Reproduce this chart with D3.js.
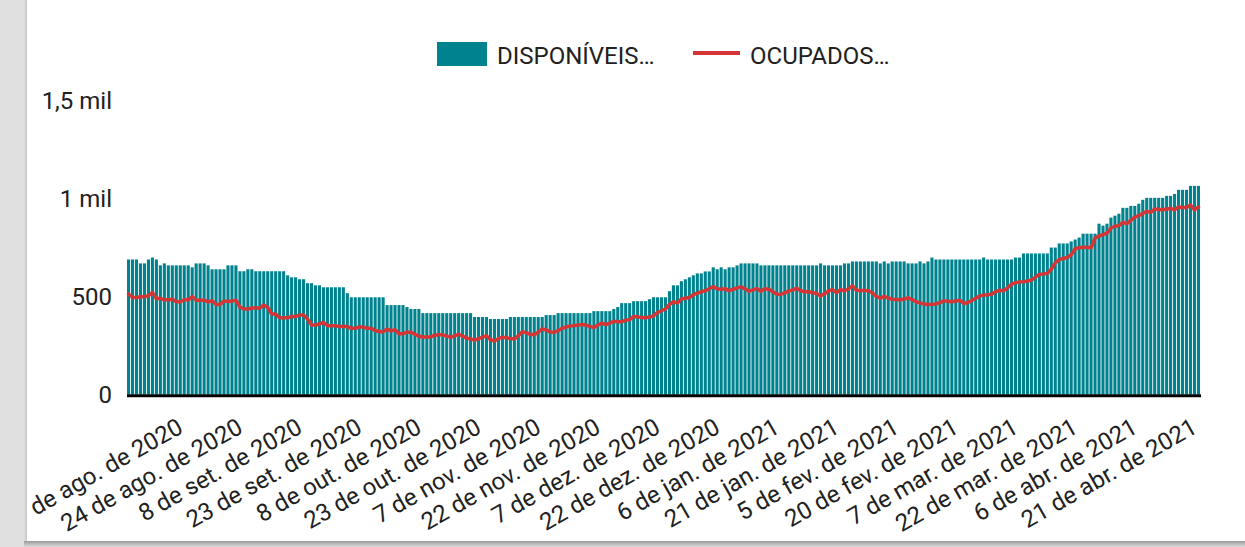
<!DOCTYPE html>
<html>
<head>
<meta charset="utf-8">
<script src="https://cdn.jsdelivr.net/npm/d3@7"></script>
<style>
  html, body { margin: 0; padding: 0; background: #e0e0e0; }
  svg { display: block; font-family: Roboto, "Noto Sans", sans-serif; }
</style>
</head>
<body>
<svg id="chart" width="1245" height="547"></svg>
<script>
// ---------- DATA ----------
const startDate = new Date(2020, 6, 30);   // 30 jul 2020
const endDate = new Date(2021, 3, 26);     // exclusive -> last day 25 abr 2021
const dates = d3.timeDay.range(startDate, endDate);

const disponiveis = [
  690,690,690,670,670,690,700,690,660,670,
  660,660,660,660,660,660,650,670,670,670,
  660,640,640,640,640,660,660,660,630,630,
  640,640,630,630,630,630,630,630,630,630,
  609,599,599,589,589,569,569,558,558,548,
  548,548,548,548,548,518,497,497,497,497,
  497,497,497,497,497,457,457,457,457,457,
  447,437,437,437,416,416,416,416,416,416,
  416,416,416,416,416,416,416,396,396,396,
  396,386,386,386,386,386,396,396,396,396,
  396,396,396,396,396,406,406,406,416,416,
  416,416,416,416,416,416,416,426,426,426,
  426,426,437,447,467,467,467,477,477,477,
  477,487,497,497,497,497,528,558,558,579,
  589,599,609,619,619,629,629,650,640,650,
  640,650,650,660,670,670,670,670,670,660,
  660,660,660,660,660,660,660,660,660,660,
  660,660,660,660,670,660,660,660,660,660,
  670,670,680,680,680,680,680,680,680,670,
  680,670,680,680,680,680,670,670,670,680,
  670,680,700,690,690,690,690,690,690,690,
  690,690,690,690,690,700,690,690,690,690,
  690,690,690,700,700,721,721,721,721,721,
  721,721,751,751,772,772,772,782,792,802,
  822,822,822,822,873,863,873,904,914,924,
  954,954,964,964,975,995,1005,1005,1005,1005,
  1005,1015,1015,1025,1046,1046,1046,1066,1066,1066
];

const ocupados = [
  513,496,496,500,500,505,521,491,491,484,
  484,487,474,474,484,484,500,482,482,482,
  474,479,460,460,477,477,477,482,447,437,
  437,442,442,442,457,445,411,411,392,392,
  392,399,399,406,406,386,355,355,360,369,
  352,352,352,347,347,347,338,338,345,345,
  338,338,327,321,321,335,325,331,311,311,
  318,318,308,298,294,294,294,303,305,305,
  298,293,300,308,298,288,284,278,285,293,
  300,280,274,285,293,290,286,284,300,321,
  315,308,305,318,335,330,320,318,326,338,
  345,350,352,355,358,355,348,342,355,365,
  357,365,374,372,372,380,382,399,397,393,
  392,396,402,420,428,437,460,474,467,488,
  492,496,510,518,525,530,540,552,540,538,
  541,530,538,545,550,540,528,535,541,528,
  541,538,525,513,511,520,528,535,543,530,
  525,525,520,516,504,515,530,535,521,536,
  530,540,555,533,532,531,530,520,501,493,
  501,493,487,486,484,488,494,485,474,468,
  463,460,461,463,470,479,476,474,478,482,
  465,470,480,492,504,508,510,513,525,533,
  530,545,563,572,575,576,580,585,600,614,
  616,619,640,673,690,695,700,714,745,750,
  753,752,750,799,810,817,825,851,860,863,
  880,873,890,907,914,925,936,931,948,946,
  944,948,951,944,958,956,956,968,944,958
];

const tickLabels = [
  "9 de ago. de 2020","24 de ago. de 2020","8 de set. de 2020","23 de set. de 2020",
  "8 de out. de 2020","23 de out. de 2020","7 de nov. de 2020","22 de nov. de 2020",
  "7 de dez. de 2020","22 de dez. de 2020","6 de jan. de 2021","21 de jan. de 2021",
  "5 de fev. de 2021","20 de fev. de 2021","7 de mar. de 2021","22 de mar. de 2021",
  "6 de abr. de 2021","21 de abr. de 2021"
];
const tickDates = [
  new Date(2020,7,9), new Date(2020,7,24), new Date(2020,8,8), new Date(2020,8,23),
  new Date(2020,9,8), new Date(2020,9,23), new Date(2020,10,7), new Date(2020,10,22),
  new Date(2020,11,7), new Date(2020,11,22), new Date(2021,0,6), new Date(2021,0,21),
  new Date(2021,1,5), new Date(2021,1,20), new Date(2021,2,7), new Date(2021,2,22),
  new Date(2021,3,6), new Date(2021,3,21)
];
const yTicks = [0, 500, 1000, 1500];
const yTickLabels = ["0", "500", "1 mil", "1,5 mil"];
const seriesNames = ["DISPONÍVEIS…", "OCUPADOS…"];
const colors = ["#00838f", "#d63535"];

// ---------- CHART ----------
const svg = d3.select("#chart");
const W = 1245, H = 547;
svg.append("rect").attr("x", 0).attr("y", 0).attr("width", W).attr("height", H).attr("fill", "#ffffff");

const n = Math.min(dates.length, disponiveis.length, ocupados.length);
const data = dates.slice(0, n).map((d, i) => ({ date: d, key: +d, disp: disponiveis[i], ocup: ocupados[i] }));

const x = d3.scaleBand()
  .domain(data.map(d => d.key))
  .range([127, 1200])
  .paddingInner(0.22)
  .paddingOuter(0);

const y = d3.scaleLinear().domain([0, 1500]).range([394.5, 101]);

// bars
svg.append("g")
  .selectAll("rect")
  .data(data)
  .join("rect")
  .attr("x", d => x(d.key))
  .attr("y", d => y(d.disp))
  .attr("width", x.bandwidth())
  .attr("height", d => y(0) - y(d.disp))
  .attr("fill", colors[0]);

// line
const line = d3.line()
  .x(d => x(d.key) + x.bandwidth() / 2)
  .y(d => y(d.ocup));
svg.append("path")
  .datum(data)
  .attr("d", line)
  .attr("fill", "none")
  .attr("stroke", colors[1])
  .attr("stroke-width", 3.5)
  .attr("stroke-linejoin", "round")
  .attr("stroke-linecap", "round");

// x axis
const xAxis = d3.axisBottom(x)
  .tickValues(tickDates.map(d => +d))
  .tickFormat((d, i) => tickLabels[i])
  .tickSize(0)
  .tickSizeOuter(0);
const gx = svg.append("g").attr("transform", `translate(0,${y(0)})`).call(xAxis);
gx.select(".domain").attr("stroke", "#000").attr("stroke-width", 3).attr("d", "M127,1.2H1201");
gx.selectAll(".tick text")
  .attr("font-size", 24)
  .attr("font-family", "Roboto")
  .attr("fill", "#212121")
  .attr("text-anchor", "end")
  .attr("dy", "0.35em")
  .attr("y", 0)
  .attr("transform", "translate(12,30) rotate(-29.5)");

// y axis
const yAxis = d3.axisLeft(y)
  .tickValues(yTicks)
  .tickFormat((d, i) => yTickLabels[i])
  .tickSize(0)
  .tickPadding(15);
const gy = svg.append("g").attr("transform", "translate(127,0)").call(yAxis);
gy.select(".domain").remove();
gy.selectAll(".tick text")
  .attr("font-size", 24)
  .attr("font-family", "Roboto")
  .attr("fill", "#212121");

// legend
const lg = svg.append("g");
lg.append("rect").attr("x", 437).attr("y", 42).attr("width", 50).attr("height", 24).attr("fill", colors[0]);
lg.append("text").attr("x", 497).attr("y", 63.5).attr("font-size", 24).attr("fill", "#212121").text(seriesNames[0]);
lg.append("line").attr("x1", 693).attr("x2", 740).attr("y1", 53).attr("y2", 53)
  .attr("stroke", colors[1]).attr("stroke-width", 4);
lg.append("text").attr("x", 750).attr("y", 63.5).attr("font-size", 24).attr("fill", "#212121").text(seriesNames[1]);

// page frame (grey surround + card shadow)
const defs = svg.append("defs");
const gl = defs.append("linearGradient").attr("id", "shL").attr("x1", 0).attr("x2", 1).attr("y1", 0).attr("y2", 0);
gl.append("stop").attr("offset", 0).attr("stop-color", "#e0e0e0");
gl.append("stop").attr("offset", 1).attr("stop-color", "#c4c4c4");
const gb = defs.append("linearGradient").attr("id", "shB").attr("x1", 0).attr("x2", 0).attr("y1", 0).attr("y2", 1);
gb.append("stop").attr("offset", 0).attr("stop-color", "#9a9a9a");
gb.append("stop").attr("offset", 1).attr("stop-color", "#dcdcdc");

svg.append("rect").attr("x", 0).attr("y", 0).attr("width", 24).attr("height", H).attr("fill", "#e0e0e0");
svg.append("rect").attr("x", 24).attr("y", 0).attr("width", 3).attr("height", H).attr("fill", "url(#shL)");
svg.append("rect").attr("x", 0).attr("y", 541).attr("width", W).attr("height", 6).attr("fill", "url(#shB)");
svg.append("rect").attr("x", 0).attr("y", 541).attr("width", 24).attr("height", 6).attr("fill", "#e0e0e0");
</script>
</body>
</html>
